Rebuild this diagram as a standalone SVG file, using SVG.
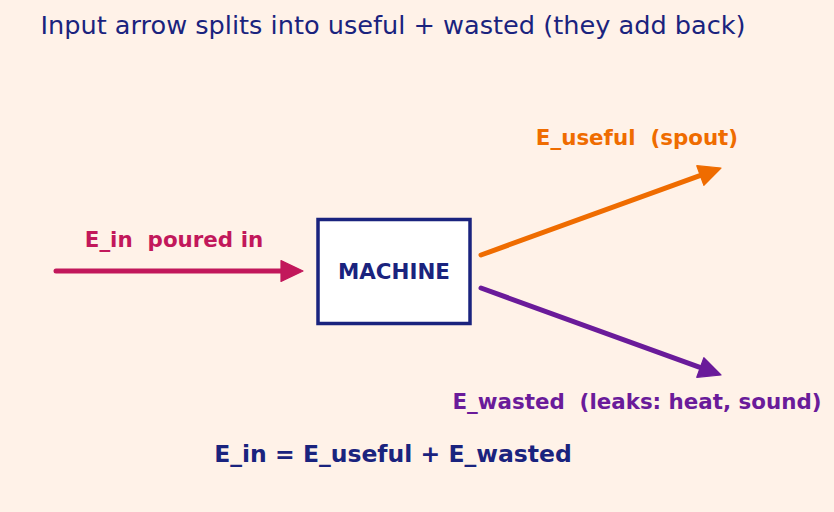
<svg xmlns="http://www.w3.org/2000/svg" width="834" height="512" viewBox="0 0 834 512">
<style>
text{font-family:"DejaVu Sans",sans-serif}
.lbl{font-weight:bold;font-size:21.4px;text-anchor:middle}
.arr{stroke-width:5;stroke-linecap:round;fill:none}
</style>
<defs>
<marker id="hr" viewBox="0 0 12 12" refX="6.5" refY="6" markerWidth="4.8" markerHeight="4.8" markerUnits="strokeWidth" orient="auto"><path d="M0.5,0.8 L11.5,6 L0.5,11.2 Z" fill="#c2185b" stroke="#c2185b" stroke-width="0.6" stroke-linejoin="round"/></marker>
<marker id="ho" viewBox="0 0 12 12" refX="6.5" refY="6" markerWidth="4.8" markerHeight="4.8" markerUnits="strokeWidth" orient="auto"><path d="M0.5,0.8 L11.5,6 L0.5,11.2 Z" fill="#ef6c00" stroke="#ef6c00" stroke-width="0.6" stroke-linejoin="round"/></marker>
<marker id="hp" viewBox="0 0 12 12" refX="6.5" refY="6" markerWidth="4.8" markerHeight="4.8" markerUnits="strokeWidth" orient="auto"><path d="M0.5,0.8 L11.5,6 L0.5,11.2 Z" fill="#6a1b9a" stroke="#6a1b9a" stroke-width="0.6" stroke-linejoin="round"/></marker>
</defs>
<rect width="834" height="512" fill="#fff2e8"/>
<text x="393" y="34" font-size="25.6" fill="#1a237e" text-anchor="middle">Input arrow splits into useful + wasted (they add back)</text>
<g id="connectors">
<line class="arr" x1="56" y1="271" x2="293" y2="271" stroke="#c2185b" marker-end="url(#hr)"/>
<line class="arr" x1="481" y1="255" x2="711.6" y2="171.4" stroke="#ef6c00" marker-end="url(#ho)"/>
<line class="arr" x1="481" y1="288" x2="711.6" y2="371.6" stroke="#6a1b9a" marker-end="url(#hp)"/>
</g>
<g id="machine">
<rect x="318" y="219.5" width="152" height="104" fill="#ffffff" stroke="#1a237e" stroke-width="3.5"/>
<text x="394" y="278.5" class="lbl" fill="#1a237e">MACHINE</text>
</g>
<g id="labels">
<text x="174" y="246.5" class="lbl" fill="#c2185b" xml:space="preserve">E_in  poured in</text>
<text x="637" y="144.5" class="lbl" fill="#ef6c00" xml:space="preserve">E_useful  (spout)</text>
<text x="637" y="408.5" class="lbl" fill="#6a1b9a" xml:space="preserve">E_wasted  (leaks: heat, sound)</text>
<text x="393" y="461.5" class="lbl" fill="#1a237e" style="font-size:23.5px">E_in = E_useful + E_wasted</text>
</g>
</svg>
